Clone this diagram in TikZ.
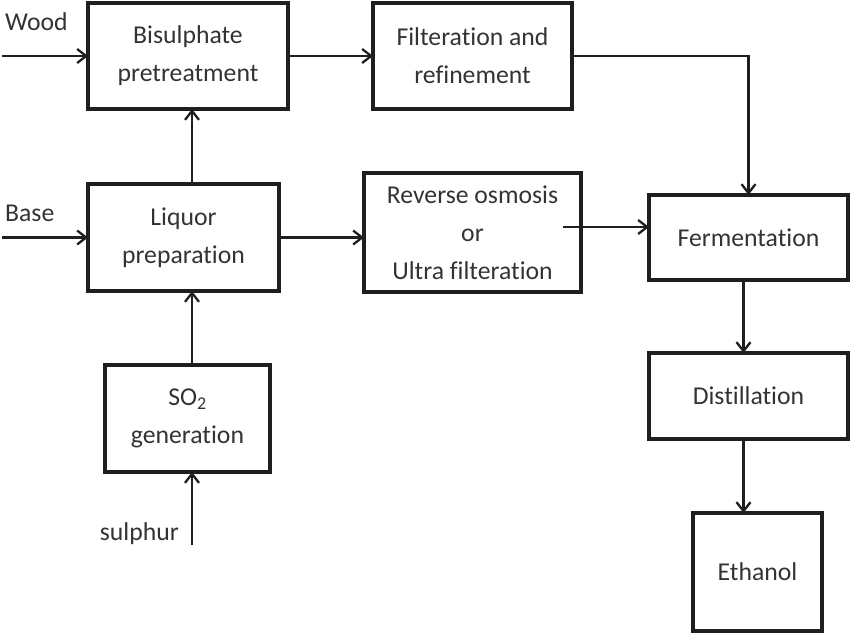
\documentclass[tikz,border=0pt]{standalone}
\usepackage{fontspec}
\setmainfont{Carlito}[Ligatures=NoCommon]
\usetikzlibrary{arrows.meta}

\tikzset{
  blk/.style={draw=black!88, line width=3.3pt, align=center, inner sep=0pt, outer sep=0pt,
    text=black!80, font=\fontsize{25.7}{38}\selectfont},
  lbl/.style={text=black!80, inner sep=0pt, font=\fontsize{25.7}{38}\selectfont},
  flow/.style={->, draw=black!88, line width=2.3pt}
}

\begin{document}
\begin{tikzpicture}[x=1pt, y=-1pt, >={Straight Barb[length=9pt,width=14pt]}]
    \useasboundingbox (0,0) rectangle (855,643);

    % Blocks
    \node[blk, minimum width=200, minimum height=106] (bisul) at (188,56) {Bisulphate\\pretreatment};
    \node[blk, minimum width=199, minimum height=106] (filter) at (472.5,56) {Filteration and\\refinement};
    \node[blk, minimum width=191, minimum height=107] (liquor) at (183.5,237.5) {Liquor\\preparation};
    \node[blk, minimum width=217, minimum height=119] (revosm) at (472.5,232.5) {Reverse osmosis\\or\\Ultra filteration};
    \node[blk, minimum width=199, minimum height=85] (ferm) at (748.5,237.5) {Fermentation};
    \node[blk, minimum width=165, minimum height=107] (sogen) at (187.5,418.5) {SO\textsubscript{2}\\generation};
    \node[blk, minimum width=199, minimum height=86] (distil) at (748.5,396) {Distillation};
    \node[blk, minimum width=129, minimum height=118] (ethanol) at (757.5,572) {Ethanol};

    % Feed labels
    \node[lbl, anchor=base west] (wood) at (5,30) {Wood};
    \node[lbl, anchor=base west] (base) at (5,221) {Base};
    \node[lbl, anchor=base east] (sulphur) at (179,540) {sulphur};

    % Free ends of connectors
    \coordinate (woodin) at (2,56);
    \coordinate (basein) at (2,237.5);
    \coordinate (sulin) at (192,545);
    \coordinate (revout) at (563,227);
    \coordinate (downx) at (743.5,0);

    % Left column
    \draw[flow] (woodin) -- (bisul.west);
    \draw[flow] (basein) -- (liquor.west);
    \draw[flow] (sulin) -- (sulin |- sogen.south);
    \draw[flow] (sogen.north -| sulin) -- (sulin |- liquor.south);
    \draw[flow] (liquor.north -| sulin) -- (sulin |- bisul.south);

    % Middle
    \draw[flow] (bisul.east) -- (filter.west);
    \draw[flow] (liquor.east) -- (liquor.east -| revosm.west);
    \draw[flow] (revout) -- (revout -| ferm.west);
    \draw[flow] (filter.east) -| (ferm.north);

    % Right column
    \draw[flow] (ferm.south -| downx) -- (downx |- distil.north);
    \draw[flow] (distil.south -| downx) -- (downx |- ethanol.north);
\end{tikzpicture}
\end{document}
